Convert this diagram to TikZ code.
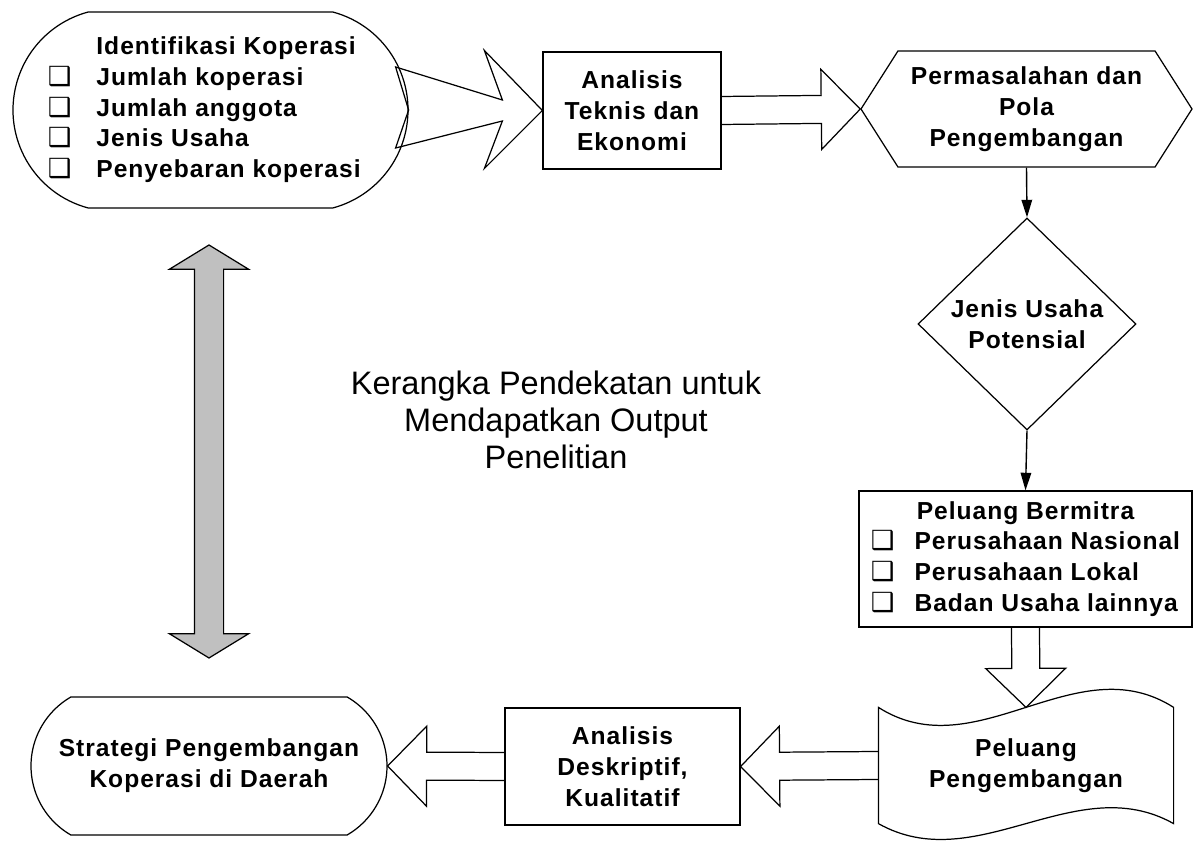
\documentclass[tikz,border=0pt]{standalone}
\usepackage{fontspec}
\setmainfont{Liberation Sans}
\newfontfamily\boxfont[LetterSpace=4]{Liberation Sans}
\newfontfamily\symfont{DejaVu Sans}
\usetikzlibrary{arrows.meta, shapes.geometric, shapes.misc, shapes.symbols, shapes.arrows, calc}
\definecolor{arrowgrey}{RGB}{192,192,192}
\newcommand{\chk}{{\symfont\fontsize{15}{15}\selectfont ❑}}

\begin{document}
\begin{tikzpicture}[
    every node/.style={font=\boxfont\bfseries\fontsize{14}{17.5}\selectfont,
      align=center, inner sep=0pt, line width=0.7pt},
    box/.style={draw, rectangle},
    capsule/.style={draw, rounded rectangle},
    hollow/.style={line width=0.7pt, to path={
      ($(\tikztostart)!0.28cm!90:(\tikztotarget)$)
      -- ($(\tikztotarget)!0.78cm!(\tikztostart)!0.28cm!-90:(\tikztostart)$)
      -- ($(\tikztotarget)!0.78cm!(\tikztostart)!0.8cm!-90:(\tikztostart)$)
      -- (\tikztotarget)
      -- ($(\tikztotarget)!0.78cm!(\tikztostart)!0.8cm!90:(\tikztostart)$)
      -- ($(\tikztotarget)!0.78cm!(\tikztostart)!0.28cm!90:(\tikztostart)$)
      -- ($(\tikztostart)!0.28cm!-90:(\tikztotarget)$)}},
    thinarrow/.style={line width=0.8pt, -{Triangle[width=6pt,length=10pt]}},
  ]
  \useasboundingbox (0,0) rectangle (23.86,16.86);

  % top row
  \node[capsule, rounded rectangle arc length=150, minimum width=7.9cm,
    minimum height=3.92cm] (ident) at (4.21,14.66) {%
    \hspace*{-0.25cm}\begin{tabular}{@{}c@{\hspace{0.5cm}}l@{}}
      & Identifikasi Koperasi\\
      \chk & Jumlah koperasi\\
      \chk & Jumlah anggota\\
      \chk & Jenis Usaha\\
      \chk & Penyebaran koperasi
    \end{tabular}};
  \node[box, minimum width=3.56cm, minimum height=2.34cm] (tekn) at (12.64,14.65)
    {Analisis\\Teknis dan\\Ekonomi};
  \node[draw, signal, signal to=west and east, signal pointer angle=115,
    minimum width=6.62cm, minimum height=2.32cm] (mas) at (20.53,14.68)
    {Permasalahan dan\\Pola\\Pengembangan};

  % right column
  \node[draw, diamond, minimum width=4.36cm, minimum height=4.24cm] (jenis)
    at (20.54,10.38) {Jenis Usaha\\Potensial};
  \node[box, minimum width=6.66cm, minimum height=2.72cm] (mitra) at (20.51,5.68) {%
    \begin{tabular}{@{}c@{\hspace{0.4cm}}l@{}}
      \multicolumn{2}{c}{Peluang Bermitra}\\
      \chk & Perusahaan Nasional\\
      \chk & Perusahaan Lokal\\
      \chk & Badan Usaha lainnya
    \end{tabular}};
  \node[minimum width=5.88cm, minimum height=2.3cm] (doc) at (20.52,1.55)
    {Peluang\\Pengembangan};
  % wavy outline of the document
  \draw[line width=0.7pt] (doc.north west)
      .. controls ($(doc.north west)+(1.96,-1.25)$) and ($(doc.north east)+(-1.96,1.25)$) .. (doc.north east)
    -- (doc.south east)
      .. controls ($(doc.south east)+(-1.96,1.1)$) and ($(doc.south west)+(1.96,-1.1)$) .. (doc.south west)
    -- cycle;

  % bottom row
  \node[box, minimum width=4.7cm, minimum height=2.34cm] (deskr) at (12.45,1.53)
    {Analisis\\Deskriptif,\\Kualitatif};
  \node[capsule, rounded rectangle arc length=120, minimum width=7.12cm,
    minimum height=2.76cm] (strat) at (4.18,1.54)
    {Strategi Pengembangan\\Koperasi di Daerah};

  % middle
  \node[font=\normalfont\fontsize{18.5}{21}\selectfont] (title) at (11.12,8.46)
    {Kerangka Pendekatan untuk\\Mendapatkan Output\\Penelitian};
  \node[double arrow, draw, fill=arrowgrey, rotate=90, minimum height=8.26cm,
    inner xsep=0pt, inner ysep=0.28cm, double arrow head extend=0.5cm,
    double arrow tip angle=117] (loop) at (4.18,7.83) {};

  % connectors
  \draw[line width=0.7pt] (ident.east) -- ++(-0.26,0.86)
    -- ($(tekn.west)+(-0.8,0.21)$) -- ($(tekn.west)+(-1.16,1.2)$)
    -- (tekn.west) -- ($(tekn.west)+(-1.16,-1.16)$)
    -- ($(tekn.west)+(-0.8,-0.21)$) -- ($(ident.east)+(-0.26,-0.76)$) -- cycle;
  \draw[hollow] (tekn.east) to (mas.west);
  \draw[thinarrow] (mas.south) -- (jenis.north);
  \draw[thinarrow] (jenis.south) -- (mitra.north);
  \draw[hollow] (mitra.south) to (doc.north);
  \draw[hollow] (doc.west) to (deskr.east);
  \draw[hollow] (deskr.west) to (strat.east);
\end{tikzpicture}
\end{document}
